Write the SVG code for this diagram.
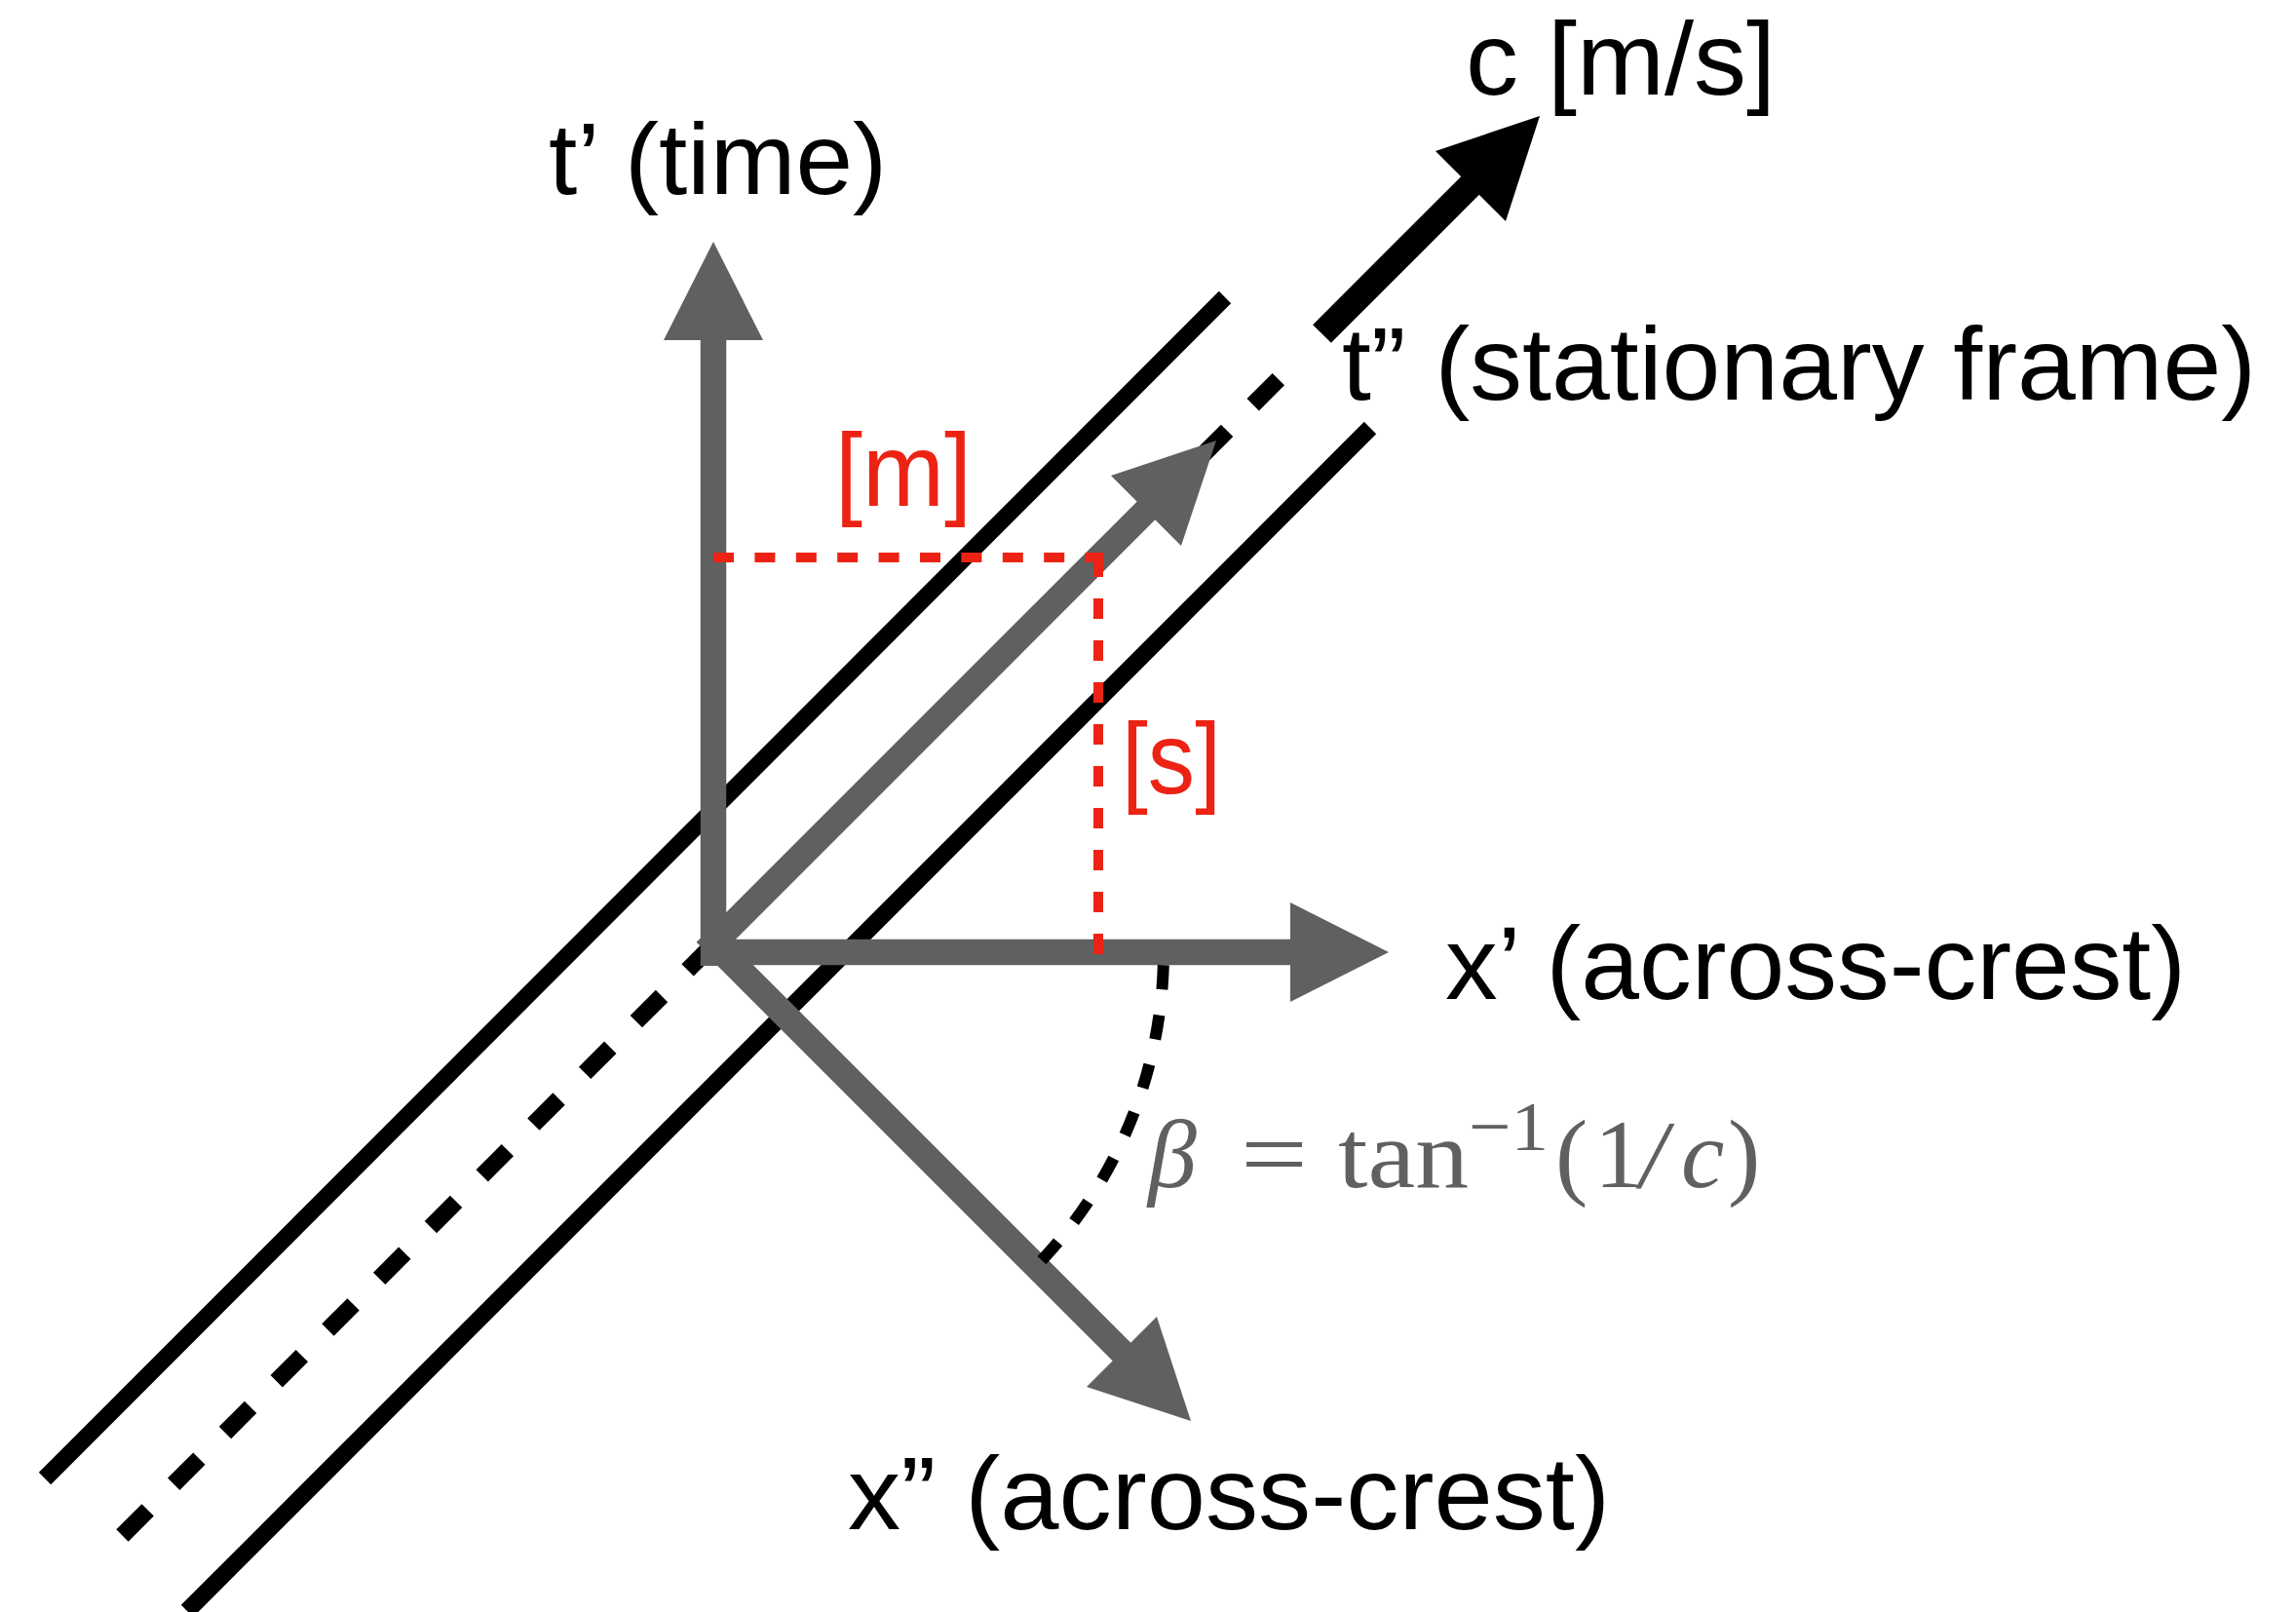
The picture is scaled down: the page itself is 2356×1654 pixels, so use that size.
<svg xmlns="http://www.w3.org/2000/svg" width="2356" height="1654" viewBox="0 0 2356 1654">
  <defs>
    <style>
      .lbl { font-family: 'Liberation Sans', Arial, Helvetica, sans-serif; fill: #000; }
      .red { font-family: 'Liberation Sans', Arial, Helvetica, sans-serif; fill: #ec2314; }
      .math { font-family: 'Liberation Serif', 'Times New Roman', serif; fill: #606060; }
      .solid { stroke: #000; stroke-width: 17.5; fill: none; stroke-linecap: butt; }
      .dash { stroke: #000; stroke-width: 17.5; fill: none; stroke-dasharray: 37 37.58; }
      .gray { stroke: #606060; stroke-width: 26.5; fill: none; stroke-linecap: butt; }
      .grayhead { fill: #606060; }
      .reddash { stroke: #ec2314; stroke-width: 10; fill: none; }
      .arc { stroke: #000; stroke-width: 12; fill: none; stroke-dasharray: 25 26.6; stroke-dashoffset: 38.3; }
    </style>
  </defs>
  <rect width="2356" height="1654" fill="#fff"/>

  <g id="connectors">
    <!-- wave crest lines -->
    <line class="solid" x1="46" y1="1517" x2="1257" y2="305"/>
    <line class="solid" x1="192" y1="1653" x2="1406" y2="439"/>
    <path class="dash" d="M125.5,1575.5 L1315,386"/>
    <!-- c arrow (black) -->
    <line stroke="#000" stroke-width="26.5" x1="1356.5" y1="342.5" x2="1510" y2="189"/>
    <polygon fill="#000" points="1580,119 1473,155 1545,227"/>

    <!-- gray axes -->
    <line class="gray" x1="732" y1="991" x2="732" y2="348"/>
    <polygon class="grayhead" points="732,248 681,349 783,349"/>
    <line class="gray" x1="719" y1="977" x2="1326" y2="977"/>
    <polygon class="grayhead" points="1425,977 1324,926 1324,1028"/>
    <line class="gray" x1="724" y1="976" x2="1177" y2="523"/>
    <polygon class="grayhead" points="1248,452 1140,488 1212,560"/>
    <line class="gray" x1="734" y1="970" x2="1152" y2="1388"/>
    <polygon class="grayhead" points="1222,1458 1115,1423 1187,1351"/>

    <!-- red dashed projections -->
    <path class="reddash" d="M732,572 H1132" stroke-dasharray="21 21.4"/>
    <path class="reddash" d="M1127,571 V979" stroke-dasharray="21 22"/>

    <!-- angle arc -->
    <path class="arc" d="M1194,977 A462,462 0 0 1 1058.7,1303.7"/>
  </g>

  <g id="label-t-prime">
    <text class="lbl" x="563" y="199" font-size="104" textLength="347" lengthAdjust="spacingAndGlyphs">t’ (time)</text>
  </g>
  <g id="label-c">
    <text class="lbl" x="1504" y="97" font-size="106" textLength="318" lengthAdjust="spacingAndGlyphs">c [m/s]</text>
  </g>
  <g id="label-t-dprime">
    <text class="lbl" x="1377" y="410" font-size="106" textLength="938" lengthAdjust="spacingAndGlyphs">t” (stationary frame)</text>
  </g>
  <g id="label-x-prime">
    <text class="lbl" x="1483" y="1025" font-size="106" textLength="760" lengthAdjust="spacingAndGlyphs">x’ (across-crest)</text>
  </g>
  <g id="label-x-dprime">
    <text class="lbl" x="870" y="1569" font-size="106" textLength="782" lengthAdjust="spacingAndGlyphs">x” (across-crest)</text>
  </g>
  <g id="label-m">
    <text class="red" x="857" y="519" font-size="106" textLength="140" lengthAdjust="spacingAndGlyphs">[m]</text>
  </g>
  <g id="label-s">
    <text class="red" x="1151" y="814" font-size="104" textLength="102" lengthAdjust="spacingAndGlyphs">[s]</text>
  </g>
  <g id="label-beta">
    <text class="math" x="1178" y="1218" font-size="100" font-style="italic">β</text>
    <text class="math" x="1273" y="1218" font-size="100" textLength="69" lengthAdjust="spacingAndGlyphs">=</text>
    <text class="math" x="1373" y="1218" font-size="100" textLength="134" lengthAdjust="spacingAndGlyphs">tan</text>
    <text class="math" x="1507" y="1180" font-size="72" textLength="82" lengthAdjust="spacingAndGlyphs">−1</text>
    <text class="math" x="1596" y="1218" font-size="100">(</text>
    <text class="math" x="1636" y="1218" font-size="100">1</text>
    <text class="math" x="1683" y="1218" font-size="100" font-style="italic">/</text>
    <text class="math" x="1725" y="1218" font-size="100" font-style="italic">c</text>
    <text class="math" x="1773" y="1218" font-size="100">)</text>
  </g>
</svg>
